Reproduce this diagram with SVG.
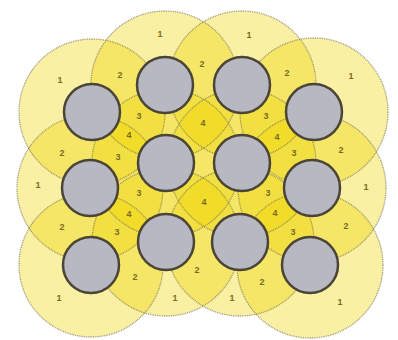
<svg xmlns="http://www.w3.org/2000/svg" width="398" height="340" viewBox="0 0 398 340">
<style>
.zone{fill:#eed500;fill-opacity:0.36;stroke:none}
.edge{fill:none;stroke:#7a7250;stroke-opacity:0.7;stroke-width:1.3;stroke-dasharray:1 0.8}
.node{fill:#b8b8c2;stroke:#4a4536;stroke-width:2.5}
.lbl{font-family:"Liberation Sans",Arial,sans-serif;font-size:9px;font-weight:bold;fill:#7a6a22;text-anchor:middle}
</style>
<rect width="398" height="340" fill="#ffffff"/>
<g id="zones">
<circle id="zone-a1" class="zone" cx="92" cy="112" r="73"/>
<circle id="zone-a2" class="zone" cx="90" cy="188" r="73"/>
<circle id="zone-a3" class="zone" cx="91" cy="265" r="72"/>
<circle id="zone-b1" class="zone" cx="165" cy="85" r="74"/>
<circle id="zone-b2" class="zone" cx="166" cy="163" r="74"/>
<circle id="zone-b3" class="zone" cx="166" cy="242" r="74"/>
<circle id="zone-c1" class="zone" cx="242" cy="85" r="74"/>
<circle id="zone-c2" class="zone" cx="242" cy="163" r="74"/>
<circle id="zone-c3" class="zone" cx="240" cy="242" r="74"/>
<circle id="zone-d1" class="zone" cx="314" cy="112" r="74"/>
<circle id="zone-d2" class="zone" cx="312" cy="188" r="74"/>
<circle id="zone-d3" class="zone" cx="310" cy="265" r="73"/>
</g>
<g id="zone-edges">
<circle class="edge" cx="92" cy="112" r="73"/>
<circle class="edge" cx="90" cy="188" r="73"/>
<circle class="edge" cx="91" cy="265" r="72"/>
<circle class="edge" cx="165" cy="85" r="74"/>
<circle class="edge" cx="166" cy="163" r="74"/>
<circle class="edge" cx="166" cy="242" r="74"/>
<circle class="edge" cx="242" cy="85" r="74"/>
<circle class="edge" cx="242" cy="163" r="74"/>
<circle class="edge" cx="240" cy="242" r="74"/>
<circle class="edge" cx="314" cy="112" r="74"/>
<circle class="edge" cx="312" cy="188" r="74"/>
<circle class="edge" cx="310" cy="265" r="73"/>
</g>
<g id="connectors"></g>
<g id="node-a1"><circle class="node" cx="92" cy="112" r="28"/></g>
<g id="node-a2"><circle class="node" cx="90" cy="188" r="28"/></g>
<g id="node-a3"><circle class="node" cx="91" cy="265" r="28"/></g>
<g id="node-b1"><circle class="node" cx="165" cy="85" r="28"/></g>
<g id="node-b2"><circle class="node" cx="166" cy="163" r="28"/></g>
<g id="node-b3"><circle class="node" cx="166" cy="242" r="28"/></g>
<g id="node-c1"><circle class="node" cx="242" cy="85" r="28"/></g>
<g id="node-c2"><circle class="node" cx="242" cy="163" r="28"/></g>
<g id="node-c3"><circle class="node" cx="240" cy="242" r="28"/></g>
<g id="node-d1"><circle class="node" cx="314" cy="112" r="28"/></g>
<g id="node-d2"><circle class="node" cx="312" cy="188" r="28"/></g>
<g id="node-d3"><circle class="node" cx="310" cy="265" r="28"/></g>
<g id="labels">
<text class="lbl" x="160" y="37">1</text>
<text class="lbl" x="249" y="38">1</text>
<text class="lbl" x="60" y="83">1</text>
<text class="lbl" x="120" y="78">2</text>
<text class="lbl" x="202" y="67">2</text>
<text class="lbl" x="287" y="76">2</text>
<text class="lbl" x="351" y="79">1</text>
<text class="lbl" x="139" y="119">3</text>
<text class="lbl" x="203" y="126">4</text>
<text class="lbl" x="266" y="119">3</text>
<text class="lbl" x="129" y="138">4</text>
<text class="lbl" x="277" y="140">4</text>
<text class="lbl" x="62" y="156">2</text>
<text class="lbl" x="118" y="160">3</text>
<text class="lbl" x="294" y="156">3</text>
<text class="lbl" x="341" y="153">2</text>
<text class="lbl" x="38" y="188">1</text>
<text class="lbl" x="366" y="190">1</text>
<text class="lbl" x="139" y="196">3</text>
<text class="lbl" x="204" y="205">4</text>
<text class="lbl" x="268" y="196">3</text>
<text class="lbl" x="129" y="217">4</text>
<text class="lbl" x="275" y="216">4</text>
<text class="lbl" x="62" y="230">2</text>
<text class="lbl" x="117" y="235">3</text>
<text class="lbl" x="293" y="235">3</text>
<text class="lbl" x="346" y="229">2</text>
<text class="lbl" x="135" y="280">2</text>
<text class="lbl" x="197" y="273">2</text>
<text class="lbl" x="262" y="285">2</text>
<text class="lbl" x="59" y="301">1</text>
<text class="lbl" x="175" y="301">1</text>
<text class="lbl" x="232" y="301">1</text>
<text class="lbl" x="340" y="305">1</text>
</g>
</svg>
